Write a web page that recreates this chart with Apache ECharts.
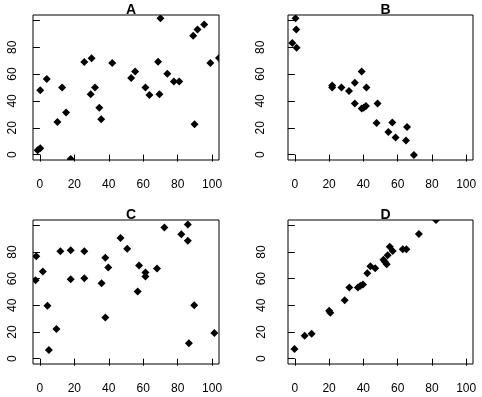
<!DOCTYPE html>
<html>
<head>
<meta charset="utf-8">
<script src="https://cdn.jsdelivr.net/npm/echarts@6/dist/echarts.min.js"></script>
<style>
  html, body { margin: 0; padding: 0; background: #fff; }
  #chart { width: 482px; height: 397px; }
</style>
</head>
<body>
<div id="chart"></div>
<script>
// panel names and tick labels
var panelNames = ['A', 'B', 'C', 'D'];
var xTicks = [0, 20, 40, 60, 80, 100];
var yTicks = [0, 20, 40, 60, 80, 100];
var yLabels = [0, 20, 40, 60, 80];

// panel A
var aX = [-1.3, 0.2, 0.2, 4, 10.2, 12.9, 15.2, 17.9, 25.8, 30, 29.5, 32, 34.5, 35.6, 42, 53, 55.3, 61.3, 63.6, 68.6, 69.4, 70, 74, 77.8, 80.9, 89, 89.8, 91.5, 95.4, 99, 104];
var aY = [3.3, 4.8, 48, 56.4, 24.3, 50, 31.3, -3.3, 69, 71.7, 45, 50, 35, 26.3, 68.2, 57.1, 61.9, 50, 44.4, 69.2, 45, 101.5, 60.2, 54.4, 54.4, 88.5, 22.6, 93.2, 97, 68.2, 71.9];
// panel B
var bX = [0.4, 0.8, -1.5, 1, 21.8, 21.8, 27.2, 31.6, 35, 39, 41.8, 35, 39, 40.2, 41.5, 48.3, 47.7, 54.6, 56.9, 58.8, 65.5, 64.9, 69.5];
var bY = [101.5, 93.2, 83.2, 79.7, 51.4, 50, 50, 47.4, 53.6, 61.9, 50, 38, 34.3, 35, 36.3, 38, 23.6, 16.8, 24, 12.8, 20.5, 10.5, -0.3];
// panel C
var cX = [-2.1, -2.5, 1.7, 4.4, 5.2, 9.6, 11.9, 17.9, 17.9, 25.8, 25.8, 35.8, 38, 39.7, 38, 46.8, 50.7, 57.6, 56.8, 61.3, 61.3, 68, 72.3, 82.1, 85.9, 85.9, 89.6, 86.5, 101.3];
var cY = [76.8, 58.9, 65.3, 39.6, 6.5, 22.2, 80.5, 81.3, 59.6, 80.5, 60.3, 56.6, 75.6, 68.3, 30.9, 90.5, 82.5, 69.8, 50.4, 64.6, 61.6, 67.6, 98.3, 93.3, 100.7, 88.5, 40.1, 11.5, 19.2];
// panel D
var dX = [-0.2, 5.7, 9.8, 20, 20.7, 29.1, 31.8, 36.8, 38.3, 39.8, 42.3, 44.1, 46.9, 51.7, 52.5, 53.6, 54.2, 55.4, 57.1, 63, 65.1, 72.4, 82.4];
var dY = [7.2, 17.2, 18.7, 35.9, 34.4, 43.9, 53.4, 53.4, 54.6, 55.6, 64.1, 69.3, 67.8, 74.1, 72.6, 70.8, 77.6, 84, 80.8, 82, 82, 93.5, 104];

var panelX = [aX, bX, cX, dX];
var panelY = [aY, bY, cY, dY];

var boxes = [
  { left: 33, top: 15, width: 186, height: 145, yMargin: 14 },
  { left: 288, top: 15, width: 185, height: 145, yMargin: 21 },
  { left: 33, top: 220, width: 186, height: 144, yMargin: 14 },
  { left: 288, top: 220, width: 185, height: 144, yMargin: 20 }
];

var font = 'Liberation Sans, Arial, sans-serif';
var myChart = echarts.init(document.getElementById('chart'), null, { renderer: 'canvas' });

// filled diamond like R's pch 18, clipped to the plot box
function diamond(params, api) {
  var p = api.coord([api.value(0), api.value(1)]);
  var s = 4;
  return {
    type: 'polygon',
    shape: { points: [[p[0], p[1] - s], [p[0] + s, p[1]], [p[0], p[1] + s], [p[0] - s, p[1]]] },
    style: { fill: '#000' }
  };
}

var option = {
  animation: false,
  backgroundColor: '#fff',
  title: [],
  grid: [],
  xAxis: [],
  yAxis: [],
  series: []
};

boxes.forEach(function (b, i) {
  option.title.push({
    text: panelNames[i],
    left: b.left + b.width / 2,
    top: b.top - 17,
    textAlign: 'center',
    textStyle: { fontFamily: font, fontSize: 14, fontWeight: 'bold', color: '#000' }
  });
  option.grid.push({
    left: b.left, top: b.top, width: b.width, height: b.height,
    show: true, borderColor: '#000', borderWidth: 1, backgroundColor: 'transparent'
  });
  option.xAxis.push({
    type: 'value', gridIndex: i, min: -4, max: 104,
    axisLine: { show: false },
    splitLine: { show: false },
    axisTick: { show: true, inside: false, length: 7, customValues: xTicks, lineStyle: { color: '#000' } },
    axisLabel: { customValues: xTicks, margin: 19, color: '#000', fontFamily: font, fontSize: 12 }
  });
  option.yAxis.push({
    type: 'value', gridIndex: i, min: -4, max: 104,
    axisLine: { show: false },
    splitLine: { show: false },
    axisTick: { show: true, inside: false, length: 7, customValues: yTicks, lineStyle: { color: '#000' } },
    axisLabel: { customValues: yLabels, rotate: 90, margin: b.yMargin, color: '#000', fontFamily: font, fontSize: 12 }
  });
  option.series.push({
    type: 'custom', xAxisIndex: i, yAxisIndex: i, clip: true,
    renderItem: diamond,
    data: panelX[i].map(function (x, k) { return [x, panelY[i][k]]; })
  });
});

myChart.setOption(option);
</script>
</body>
</html>
